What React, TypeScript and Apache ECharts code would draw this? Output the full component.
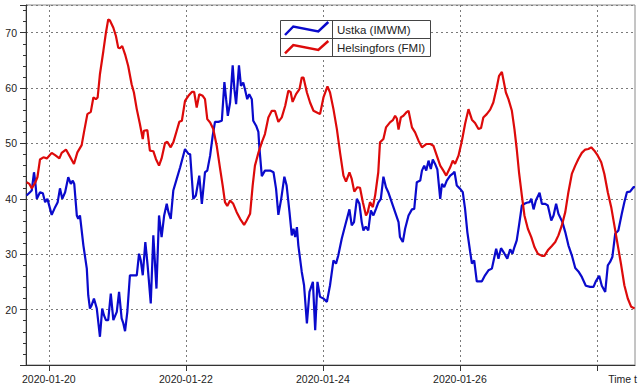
import React, { useEffect, useRef } from 'react';
import * as echarts from 'echarts';

// Hours since 2020-01-19 00:00 (UTC) and measured values
const BASE_UTC = Date.UTC(2020, 0, 19);
const X_MIN_H = 16;
const X_MAX_H = 229.33;
const TICK_HOURS = [24, 72, 120, 168, 216];
const LABEL_HOURS = [24, 72, 120, 168];
const SERIES_NAMES = ['Ustka (IMWM)', 'Helsingfors (FMI)'];
const SERIES_COLORS = ['#0a0acc', '#dd0a0a'];
const X_AXIS_NAME = 'Time t';

const ustka: [number, number][] = [
  [16.2, 40.6], [17.4, 41.2], [18.0, 41.5], [18.8, 44.8], [19.2, 43.3], [19.8, 40], [20.9, 41.2], [21.9, 41],
  [22.7, 39.4], [23.5, 40], [25.0, 37.1], [26.2, 38.5], [27.1, 39.4], [27.9, 41.9], [28.7, 40], [29.7, 41.2],
  [30.8, 43.9], [31.7, 42.7], [32.4, 43.3], [32.9, 42.7], [33.8, 37], [34.3, 36.4], [34.9, 37], [36.1, 31.6],
  [37.3, 27.4], [37.8, 22.6], [38.4, 20.2], [39.0, 20.8], [39.8, 22], [40.8, 20.2], [41.9, 15.1], [42.7, 20.2],
  [43.3, 19], [44.0, 18.1], [44.8, 18.1], [45.7, 22.9], [46.6, 18.1], [47.8, 19.6], [48.6, 23.2], [49.5, 18.4],
  [50.1, 17.5], [50.7, 16.1], [51.5, 19.6], [52.4, 26.2], [53.6, 26.2], [54.8, 26.2], [55.6, 30.1], [56.2, 28.9],
  [56.9, 26.2], [57.8, 32.2], [58.6, 28], [59.7, 21.1], [60.6, 33.4], [61.7, 23.8], [62.6, 37], [63.5, 33.1],
  [64.4, 37], [65.3, 39.1], [65.9, 37.6], [66.7, 36.4], [67.6, 41.5], [68.8, 43.6], [70.0, 45.7], [71.7, 49],
  [72.9, 48.1], [73.5, 48.1], [74.6, 40], [75.5, 40.6], [76.7, 44.2], [77.6, 39.1], [78.7, 44.8], [79.5, 45.1],
  [80.5, 47.8], [81.4, 51.4], [82.2, 53.9], [83.4, 53.9], [84.6, 54.1], [85.5, 61.1], [86.1, 58], [86.7, 55],
  [87.5, 57.4], [88.4, 64.1], [89.0, 59.8], [89.6, 57.1], [90.6, 64.1], [91.3, 60.4], [92.1, 61], [92.7, 59.8],
  [93.5, 58], [94.2, 58.9], [95.1, 58], [95.6, 54.1], [96.6, 53.2], [97.4, 52.1], [97.7, 49.6], [98.6, 44.1],
  [99.7, 45.1], [101.5, 45.1], [102.7, 44.8], [103.6, 41.8], [104.4, 37.1], [105.4, 40], [106.5, 44], [107.3, 42.4],
  [108.3, 37.6], [109.1, 33.4], [109.7, 34.6], [110.3, 33.1], [110.9, 34.9], [111.4, 31.6], [112.6, 26.8], [113.4, 24.4],
  [114.4, 17.5], [115.3, 23.2], [116.5, 25], [117.3, 16.3], [118.1, 25], [119.0, 22.3], [120.2, 22], [121.4, 21.4],
  [122.5, 24.4], [123.7, 28.9], [124.6, 28.3], [125.4, 29.8], [126.6, 32.8], [127.8, 35.2], [129.3, 38.1], [130.1, 35.2],
  [130.9, 35.8], [131.9, 40], [132.8, 39.1], [133.6, 35.8], [134.2, 34.3], [135.0, 35], [135.9, 34.3], [136.8, 37.9],
  [137.7, 37], [138.6, 38.2], [139.4, 39.3], [140.3, 40], [141.2, 44], [142.1, 42.1], [142.9, 41.2], [144.1, 39.4],
  [145.3, 37.6], [146.5, 35.8], [147.0, 33.1], [148.0, 32.2], [148.8, 34.6], [150.0, 37], [151.2, 38.1], [152.0, 38.2],
  [152.9, 43], [154.1, 43.3], [154.7, 45.1], [155.5, 46], [156.2, 45.1], [157.0, 46.9], [157.8, 45.4], [158.5, 47.1],
  [159.3, 46.3], [160.1, 45.3], [161.1, 40], [161.7, 42.7], [162.5, 42.1], [163.4, 43.3], [164.6, 44.2], [165.4, 44.5],
  [166.1, 44.9], [166.9, 42.4], [168.1, 41.8], [169.0, 41.2], [169.8, 38.2], [170.6, 34], [171.6, 30.4], [172.2, 28.3],
  [173.0, 28.9], [173.9, 25.1], [175.7, 25.1], [176.8, 26.2], [178.0, 27.1], [179.2, 27.4], [179.7, 28.6], [180.7, 31],
  [181.5, 29.2], [182.4, 31.1], [183.6, 30.1], [184.6, 29.2], [185.6, 30.9], [186.4, 30.1], [187.1, 31.3], [187.9, 32.5],
  [188.7, 35.2], [189.7, 38.8], [190.6, 39.1], [191.4, 39.3], [192.4, 39.4], [193.0, 40], [193.8, 38.1], [194.6, 39.7],
  [195.9, 41.1], [196.7, 39.1], [197.9, 39.1], [198.8, 38.8], [200.0, 36.1], [200.8, 37], [201.7, 39.1], [202.5, 37.3],
  [203.9, 35.8], [204.9, 34], [206.0, 31.6], [207.2, 29.8], [208.4, 27.5], [209.5, 26.9], [210.7, 25.9], [212.1, 24.3],
  [213.6, 24.1], [214.8, 24.1], [215.6, 25.1], [216.8, 26.1], [217.7, 24.3], [218.9, 23.2], [219.8, 28], [220.6, 28.6],
  [221.4, 29.5], [222.4, 33.7], [223.5, 34.3], [224.7, 37.3], [225.6, 39.4], [226.5, 41.2], [227.6, 41.3], [228.8, 42.1],
  [229.3, 42.1],
];

const helsingfors: [number, number][] = [
  [16.2, 43], [17.2, 42.7], [18.0, 41.9], [19.2, 42.9], [20.0, 43.9], [20.9, 47.1], [22.1, 47.5], [23.3, 47.3],
  [25.0, 48.3], [26.2, 47.9], [27.7, 47.3], [28.5, 48.3], [30.0, 48.9], [31.2, 47.8], [32.8, 46.3], [34.0, 48.4],
  [35.5, 49.7], [36.3, 52], [37.5, 55.3], [38.7, 55.7], [39.6, 58.3], [40.5, 58], [41.1, 58.3], [41.9, 62.5],
  [43.1, 66.7], [44.0, 70], [44.8, 72.4], [45.4, 72.2], [46.6, 70.9], [47.5, 69.4], [48.3, 67.3], [48.9, 67.2],
  [49.7, 67.6], [50.7, 66.1], [51.8, 64], [53.0, 60.7], [53.8, 59.2], [54.8, 56.2], [55.9, 53.5], [56.9, 50.8],
  [57.3, 52.3], [58.5, 52.4], [59.4, 48.7], [60.6, 48.6], [61.5, 47.2], [62.6, 46], [63.5, 47.3], [64.7, 50.1],
  [65.5, 50.3], [66.7, 49.3], [67.6, 50.2], [68.8, 52.3], [69.7, 53.9], [70.6, 54.1], [71.7, 57.7], [72.9, 58.6],
  [74.1, 59.3], [74.9, 59.3], [75.8, 56.5], [76.7, 58.9], [77.9, 58.6], [78.7, 58], [79.5, 54.4], [80.5, 53.8],
  [81.6, 52.6], [82.8, 49.6], [84.0, 45.4], [84.9, 42.4], [85.7, 39.4], [86.5, 38.7], [87.5, 39.7], [88.6, 39.1],
  [89.8, 37.6], [91.0, 36.4], [92.4, 35.3], [93.3, 36.1], [94.5, 37.3], [95.4, 42.4], [96.2, 46], [97.4, 48.3],
  [98.6, 50.2], [99.7, 51.7], [100.9, 54.7], [102.1, 55.9], [103.2, 55.9], [104.4, 53.9], [105.6, 54.7], [106.8, 56.8],
  [107.9, 59.5], [108.7, 59.3], [109.4, 57.5], [110.6, 58.9], [111.8, 59.8], [112.6, 61.9], [113.2, 61.9], [114.4, 59.2],
  [115.5, 57.4], [116.7, 55.9], [117.9, 55.6], [119.0, 55.3], [120.2, 58.3], [121.6, 60.3], [122.5, 59.2], [123.7, 56.2],
  [124.9, 52.6], [126.0, 48.4], [127.2, 44.2], [128.1, 43.1], [129.3, 44.8], [130.1, 43.6], [131.0, 41.3], [132.1, 42.1],
  [133.0, 42.0], [134.0, 39.4], [135.1, 37], [135.7, 37.6], [136.5, 39.4], [137.5, 38.5], [138.3, 40.6], [139.4, 44.8],
  [140.0, 50.2], [141.2, 50.8], [142.1, 52.9], [143.5, 53.8], [144.5, 54.2], [145.3, 55], [145.9, 54.5], [146.5, 52.5],
  [147.3, 54.7], [148.2, 55], [149.2, 55.6], [150.0, 55.9], [151.2, 52.9], [152.3, 52], [153.5, 50.5], [154.7, 49.3],
  [156.2, 49.9], [157.6, 49.9], [158.7, 49.6], [159.9, 47.8], [161.1, 46], [162.2, 45.1], [163.2, 44.2], [164.6, 45.7],
  [165.5, 46.9], [166.3, 46.3], [167.5, 47.8], [168.7, 50.5], [169.8, 53.5], [171.0, 56.2], [172.2, 54.3], [173.3, 53.7],
  [174.5, 52.6], [175.4, 52.8], [176.2, 54.7], [177.4, 55.3], [178.6, 56.1], [179.7, 57.4], [180.9, 60.1], [181.7, 62.2],
  [182.7, 62.9], [183.2, 61.6], [184.1, 59.2], [185.0, 58], [186.2, 55.9], [187.1, 52.6], [187.9, 49], [188.7, 44.8],
  [189.7, 40.6], [190.6, 37], [191.8, 34.6], [193.0, 33.1], [194.1, 31.3], [195.3, 30.1], [196.7, 29.7], [197.6, 29.7],
  [198.8, 30.7], [200.2, 31.5], [201.4, 32.2], [202.5, 33.4], [203.7, 35.2], [204.9, 37.6], [206.0, 41.2], [207.2, 44.5],
  [208.4, 46], [209.5, 47.2], [210.7, 48.3], [211.9, 48.9], [213.0, 49], [214.0, 49.3], [215.1, 48.7], [216.3, 47.8],
  [217.5, 46.6], [218.6, 44.5], [219.8, 41.2], [221.0, 38.5], [222.1, 35.2], [223.3, 31.6], [224.5, 28], [225.6, 24.4],
  [226.8, 22], [228.0, 20.5], [229.2, 20.2],
];

const FONT = '"Liberation Sans", Arial, sans-serif';

function pad(n: number) {
  return n < 10 ? '0' + n : String(n);
}
function formatHour(h: number) {
  const d = new Date(BASE_UTC + h * 3600000);
  return `${d.getUTCFullYear()}-${pad(d.getUTCMonth() + 1)}-${pad(d.getUTCDate())}`;
}

export default function App() {
  const ref = useRef<HTMLDivElement>(null);

  useEffect(() => {
    if (!ref.current) return;
    const chart = echarts.init(ref.current, null, { renderer: 'svg' });
    const gridLine = { show: true, lineStyle: { color: '#7a7a7a', width: 1, type: [2, 3] as any } };
    const option: any = {
      animation: false,
      backgroundColor: '#ffffff',
      grid: {
        left: 26, right: 5, top: 5, bottom: 27,
        show: true, borderColor: '#8a8a8a', borderWidth: 1,
        containLabel: false, outerBoundsMode: 'none',
      },
      xAxis: {
        type: 'value',
        min: X_MIN_H,
        max: X_MAX_H,
        name: X_AXIS_NAME,
        nameLocation: 'end',
        nameGap: 2,
        nameTextStyle: {
          align: 'right', verticalAlign: 'top', padding: [8, 0, 0, 0],
          fontSize: 10.5, color: '#222', fontFamily: FONT,
        },
        axisLine: { show: true, lineStyle: { color: '#333', width: 1 } },
        axisTick: { show: true, length: 6, customValues: TICK_HOURS, lineStyle: { color: '#333' } },
        axisLabel: {
          customValues: LABEL_HOURS,
          formatter: (v: number) => formatHour(v),
          margin: 8, fontSize: 10.5, color: '#222', fontFamily: FONT,
        },
        splitLine: gridLine,
      },
      yAxis: {
        type: 'value',
        min: 10,
        max: 75,
        interval: 10,
        axisLine: { show: true, lineStyle: { color: '#333', width: 1 } },
        axisTick: { show: true, length: 6, lineStyle: { color: '#333' } },
        minorTick: { show: true, splitNumber: 5, length: 3, lineStyle: { color: '#333' } },
        axisLabel: {
          showMinLabel: false, showMaxLabel: false,
          margin: 9, fontSize: 10.5, color: '#222', fontFamily: FONT,
        },
        splitLine: gridLine,
      },
      series: [
        {
          name: SERIES_NAMES[0], type: 'line', data: ustka, showSymbol: false, clip: true,
          lineStyle: { color: SERIES_COLORS[0], width: 2.2 }, itemStyle: { color: SERIES_COLORS[0] },
        },
        {
          name: SERIES_NAMES[1], type: 'line', data: helsingfors, showSymbol: false, clip: true,
          lineStyle: { color: SERIES_COLORS[1], width: 2.2 }, itemStyle: { color: SERIES_COLORS[1] },
        },
      ],
      graphic: {
        elements: [
          { type: 'rect', z: 100, shape: { x: 280.5, y: 20.5, width: 150, height: 36 }, style: { fill: '#fff', stroke: '#444', lineWidth: 1 } },
          { type: 'line', z: 101, shape: { x1: 280.5, y1: 38.5, x2: 430.5, y2: 38.5 }, style: { stroke: '#444', lineWidth: 1 } },
          { type: 'line', z: 101, shape: { x1: 332.5, y1: 20.5, x2: 332.5, y2: 56.5 }, style: { stroke: '#444', lineWidth: 1 } },
          { type: 'polyline', z: 102, shape: { points: [[285, 35], [293.3, 26.5], [318.3, 31.5], [328.3, 22]] }, style: { stroke: SERIES_COLORS[0], lineWidth: 2.5, fill: 'none' } },
          { type: 'polyline', z: 102, shape: { points: [[285, 53.3], [293.3, 45], [318.3, 50], [328.3, 41]] }, style: { stroke: SERIES_COLORS[1], lineWidth: 2.5, fill: 'none' } },
          { type: 'text', z: 102, x: 337, y: 29.5, style: { text: SERIES_NAMES[0], fontSize: 11.5, fontFamily: FONT, fill: '#222', verticalAlign: 'middle', align: 'left' } },
          { type: 'text', z: 102, x: 337, y: 47.5, style: { text: SERIES_NAMES[1], fontSize: 11.5, fontFamily: FONT, fill: '#222', verticalAlign: 'middle', align: 'left' } },
        ],
      },
    };
    chart.setOption(option);
    return () => chart.dispose();
  }, []);

  return (
    <div
      ref={ref}
      style={{ position: 'fixed', left: 0, top: 0, width: 640, height: 392, background: '#fff' }}
    />
  );
}
